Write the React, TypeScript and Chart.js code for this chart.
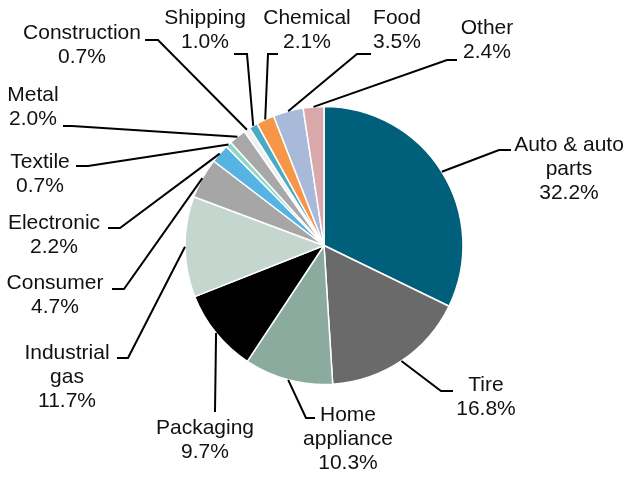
import React, { useEffect, useRef } from "react";
import { Chart, registerables } from "chart.js";

Chart.register(...registerables);

const categories = [
  "Auto & auto parts",
  "Tire",
  "Home appliance",
  "Packaging",
  "Industrial gas",
  "Consumer",
  "Electronic",
  "Textile",
  "Metal",
  "Construction",
  "Shipping",
  "Chemical",
  "Food",
  "Other",
];

const shares = [32.2, 16.8, 10.3, 9.7, 11.7, 4.7, 2.2, 0.7, 2.0, 0.7, 1.0, 2.1, 3.5, 2.4];

const colors = [
  "#005f7a",
  "#6a6a6a",
  "#8aab9d",
  "#000000",
  "#c5d6cf",
  "#a6a6a6",
  "#56b4e2",
  "#8fd6c7",
  "#a8a8a8",
  "#f0f0f0",
  "#4babc6",
  "#f79646",
  "#a9b9d9",
  "#d8a8aa",
];

// label wrapping (display lines for each category name)
const labelLines = [
  ["Auto & auto", "parts"],
  ["Tire"],
  ["Home", "appliance"],
  ["Packaging"],
  ["Industrial", "gas"],
  ["Consumer"],
  ["Electronic"],
  ["Textile"],
  ["Metal"],
  ["Construction"],
  ["Shipping"],
  ["Chemical"],
  ["Food"],
  ["Other"],
];

// layout: text centre x, first line centre y, elbow point, end point of leader line
const labelLayout = [
  { tx: 569, ty: 145, ex: 499, ey: 150, fx: 511, fy: 150 },
  { tx: 486, ty: 385, ex: 441, ey: 391, fx: 453, fy: 391 },
  { tx: 348, ty: 415, ex: 306, ey: 418, fx: 315, fy: 418 },
  { tx: 205, ty: 428, ex: 215, ey: 412, fx: 215, fy: 412 },
  { tx: 67, ty: 353, ex: 128, ey: 358, fx: 117, fy: 358 },
  { tx: 55, ty: 283, ex: 124, ey: 289, fx: 112, fy: 289 },
  { tx: 54, ty: 223, ex: 120, ey: 228, fx: 108, fy: 228 },
  { tx: 40, ty: 162, ex: 88, ey: 166, fx: 76, fy: 166 },
  { tx: 33, ty: 95, ex: 72, ey: 126, fx: 63, fy: 126 },
  { tx: 82, ty: 33, ex: 158, ey: 40, fx: 145, fy: 40 },
  { tx: 205, ty: 18, ex: 247, ey: 54, fx: 234, fy: 54 },
  { tx: 307, ty: 18, ex: 268, ey: 54, fx: 278, fy: 54 },
  { tx: 397, ty: 18, ex: 357, ey: 54, fx: 371, fy: 54 },
  { tx: 487, ty: 28, ex: 447, ey: 60, fx: 457, fy: 60 },
];

const labelPlugin = {
  id: "leaderLabels",
  afterDatasetsDraw(chart: any) {
    const ctx = chart.ctx;
    const meta = chart.getDatasetMeta(0);
    ctx.save();
    ctx.strokeStyle = "#000000";
    ctx.lineWidth = 2;
    ctx.fillStyle = "#111111";
    ctx.font = '21px "Liberation Sans", Arial, sans-serif';
    ctx.textAlign = "center";
    ctx.textBaseline = "middle";
    meta.data.forEach((arc: any, i: number) => {
      const p = arc.getProps(["x", "y", "startAngle", "endAngle", "outerRadius"], true);
      const mid = (p.startAngle + p.endAngle) / 2;
      const sx = p.x + Math.cos(mid) * p.outerRadius;
      const sy = p.y + Math.sin(mid) * p.outerRadius;
      const L = labelLayout[i];
      ctx.beginPath();
      ctx.moveTo(sx, sy);
      ctx.lineTo(L.ex, L.ey);
      ctx.lineTo(L.fx, L.fy);
      ctx.stroke();
      const lines = [...labelLines[i], shares[i].toFixed(1) + "%"];
      lines.forEach((t, k) => {
        ctx.fillText(t, L.tx, L.ty + k * 24);
      });
    });
    ctx.restore();
  },
};

export default function App() {
  const ref = useRef<HTMLCanvasElement>(null);
  useEffect(() => {
    document.body.style.margin = "0";
    const chart = new Chart(ref.current!, {
      type: "pie",
      data: {
        labels: categories,
        datasets: [
          {
            data: shares,
            backgroundColor: colors,
            borderColor: "#ffffff",
            borderWidth: 1.5,
            radius: 139,
          } as any,
        ],
      },
      options: {
        responsive: false,
        animation: false,
        layout: { padding: { left: 10, right: 0, top: 12, bottom: 0 } },
        plugins: {
          legend: { display: false },
          tooltip: { enabled: false },
        },
      },
      plugins: [labelPlugin],
    });
    return () => chart.destroy();
  }, []);
  return (
    <div style={{ width: 638, height: 479, background: "#fff" }}>
      <canvas ref={ref} width={638} height={479} style={{ display: "block" }} />
    </div>
  );
}
